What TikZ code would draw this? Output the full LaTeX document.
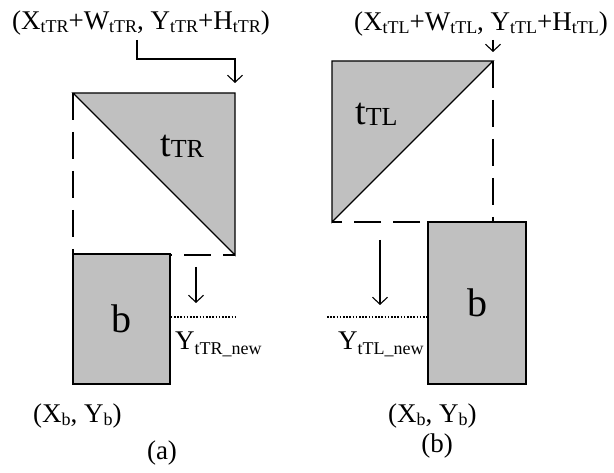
\documentclass[tikz,border=0pt]{standalone}
\usepackage{fontspec}
\setmainfont{Liberation Serif}
\usetikzlibrary{arrows.meta}
\newcommand\sbx[1]{\raisebox{-3pt}{\fontsize{18}{18}\selectfont #1}}
\newcommand\sby[1]{\raisebox{-5pt}{\fontsize{18}{18}\selectfont #1}}
\definecolor{shade}{HTML}{C0C0C0}
\tikzset{
  lbl/.style={inner sep=0pt, font=\fontsize{27}{30}\selectfont},
  tri/.style={fill=shade, draw=black, line width=1.3pt, line join=miter},
  dash box/.style={draw=black, line width=1.1pt, dash pattern=on 27pt off 12pt},
  blk/.style={draw=black, fill=shade, line width=1.4pt, inner sep=0pt, font=\fontsize{40}{40}\selectfont},
  arr/.style={draw=black, line width=1.1pt, -{Straight Barb[length=7pt,width=15pt,line width=1.1pt]}},
  dots/.style={draw=black, line width=1.2pt, dash pattern=on 1.6pt off 1.6pt}
}
\begin{document}
\begin{tikzpicture}[x=1pt,y=-1pt]
\useasboundingbox (0,0) rectangle (614,473);
% ---------- (a) ----------
\coordinate (aTL) at (73,93);
\coordinate (aTR) at (235,93);
\coordinate (aBR) at (235,255);
\coordinate (aBL) at (73,255);
\draw[dash box] (aTL) -- (aBL) -- (aBR);
\path[tri] (aTL) -- (aTR) -- (aBR) -- cycle;
\node[blk, minimum width=97pt, minimum height=130pt] (ba) at (121.5,319) {b};
\node[lbl, anchor=base west, font=\fontsize{38}{40}\selectfont] (ttr) at (160,157) {t\raisebox{-1pt}{\fontsize{26}{26}\selectfont TR}};
\node[lbl, anchor=base] (la) at (141,30) {(X\sbx{tTR}+W\sbx{tTR}, Y\sbx{tTR}+H\sbx{tTR})};
\coordinate (s1) at (137,40);
\coordinate (s2) at (137,59);
\coordinate (e1) at (235,83);
\draw[arr] (s1) -- (s2) -| (e1);
\coordinate (da1) at (196,267);
\coordinate (da2) at (196,303);
\draw[arr] (da1) -- (da2);
\coordinate (dotA) at (236,317);
\draw[dots] (ba.east |- dotA) -- (dotA);
\node[lbl, anchor=base west] (ya) at (175,350) {Y\sby{tTR\_new}};
\node[lbl, anchor=base west] (xba) at (33,423) {(X\sbx{b}, Y\sbx{b})};
\node[lbl, anchor=base] (capa) at (162,460) {(a)};
% ---------- (b) ----------
\coordinate (bTL) at (332,61);
\coordinate (bTR) at (493,61);
\coordinate (bBR) at (493,222);
\coordinate (bBL) at (332,222);
\draw[dash box] (bTR) -- (bBR) -- (bBL);
\path[tri] (bTL) -- (bTR) -- (bBL) -- cycle;
\node[blk, minimum width=98pt, minimum height=162pt] (bb) at (477,303) {b};
\node[lbl, anchor=base west, font=\fontsize{38}{40}\selectfont] (ttl) at (355,125) {t\raisebox{-1pt}{\fontsize{26}{26}\selectfont TL}};
\node[lbl, anchor=base] (lb) at (481,31) {(X\sbx{tTL}+W\sbx{tTL}, Y\sbx{tTL}+H\sbx{tTL})};
\coordinate (r1) at (493,40);
\coordinate (r2) at (493,52);
\draw[arr] (r1) -- (r2);
\coordinate (db1) at (380,240);
\coordinate (db2) at (380,305);
\draw[arr] (db1) -- (db2);
\coordinate (dotB) at (327,317);
\draw[dots] (dotB) -- (bb.west |- dotB);
\node[lbl, anchor=base west] (yb) at (338,350) {Y\sby{tTL\_new}};
\node[lbl, anchor=base west] (xbb) at (388,423) {(X\sbx{b}, Y\sbx{b})};
\node[lbl, anchor=base] (capb) at (437,453) {(b)};
\end{tikzpicture}
\end{document}
